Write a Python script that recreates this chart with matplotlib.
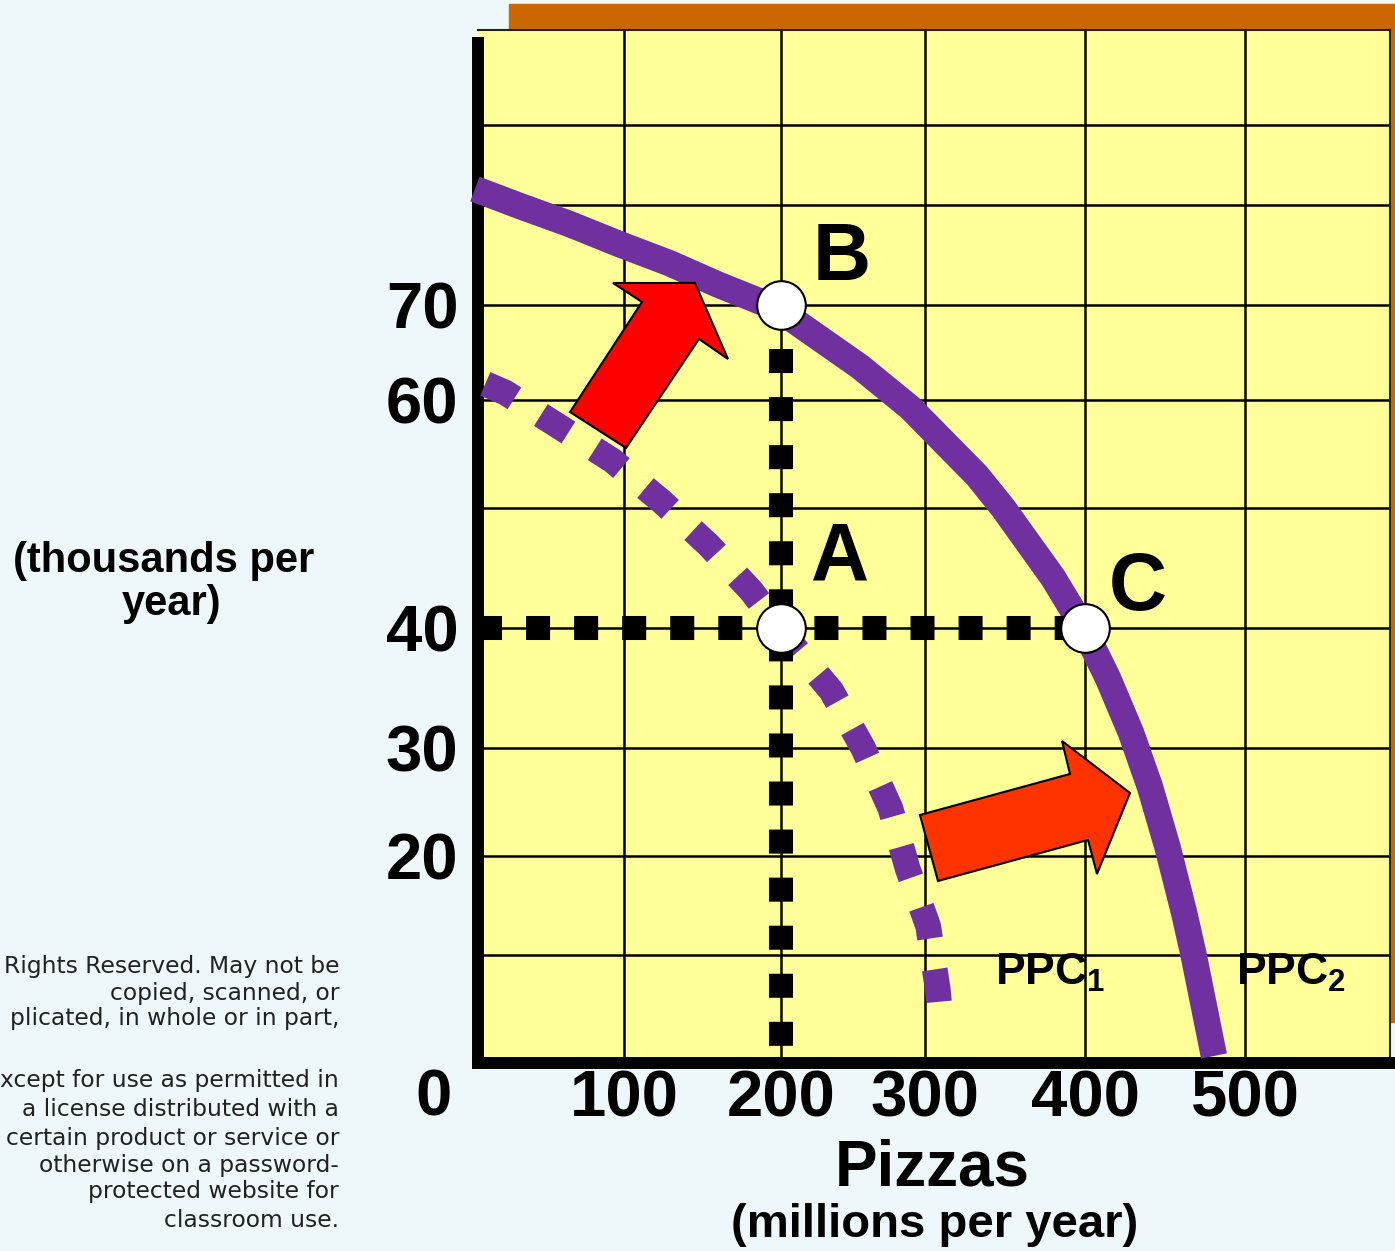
import numpy as np
import matplotlib
matplotlib.use("Agg")
import matplotlib.pyplot as plt
from matplotlib.patches import Polygon, Rectangle

# ---------------- data ----------------
x_ticks = [100, 200, 300, 400, 500]
x_tick_labels = ["100", "200", "300", "400", "500"]
y_ticks = [20, 30, 40, 60, 70]
y_tick_labels = ["20", "30", "40", "60", "70"]
x_grid = [100, 200, 300, 400, 500]
y_grid = [10, 20, 30, 40, 50, 60, 70, 80, 90]

# PPC2 (solid, outer curve)
ppc2_x = [-2.1, 28.6, 62.7, 96.6, 128.7, 160.5, 196.8, 254.9, 289.6, 332.5,
          348.8, 380, 398.6, 414.4, 428.8, 440.6, 451.6, 461.9, 467.5, 480.6]
ppc2_y = [82.0, 79.9, 78.1, 76.1, 74.2, 72.0, 69.7, 63.5, 59.3, 53.0,
          50.0, 44.2, 40.1, 35.8, 31.25, 26.4, 20.8, 14.3, 10.3, 0.65]
# PPC1 (dashed, inner curve)
ppc1_x = [5, 18.5, 56, 92, 124, 154, 181, 208, 235, 257, 276, 288, 302, 308, 309]
ppc1_y = [61.7, 60.8, 57.5, 54.4, 50.6, 46.9, 43.1, 38.6, 34.75, 30, 24.4, 18.7, 12.9, 6.8, 5.2]

point_names = ["A", "B", "C"]
point_x = [200, 200, 400]
point_y = [40, 70, 40]

# hand-drawn grid: display offsets (px) of each grid value
x_scale_vals = [0, 100, 200, 300, 400, 500, 600]
x_scale_pos = [0, 146, 303, 447, 607, 767, 912]
y_scale_vals = [0, 10, 20, 30, 40, 50, 60, 70, 80, 90, 100]
y_scale_pos = [0, 108, 207, 315, 435, 555, 663, 758, 858, 938, 1033]

copyright_lines = [
    "Rights Reserved. May not be",
    "copied, scanned, or",
    "plicated, in whole or in part,",
    "xcept for use as permitted in",
    "a license distributed with a",
    "certain product or service or",
    "otherwise on a password-",
    "protected website for",
    "classroom use.",
]
copyright_baselines = [973, 1000, 1025, 1087, 1116, 1145, 1172, 1198, 1227]

# ---------------- style ----------------
BG = "#EEF7F9"
YELLOW = "#FFFF99"
ORANGE = "#CC6600"
PURPLE = "#7030A0"
RED1 = "#FF0000"
RED2 = "#FF3300"

plt.rcParams["font.family"] = ["Liberation Sans", "DejaVu Sans"]
plt.rcParams["mathtext.default"] = "regular"
plt.rcParams["lines.scale_dashes"] = False


def make_pw(vals, pos):
    vals = np.asarray(vals, float)
    pos = np.asarray(pos, float)

    def mapper(a, b):
        def f(v):
            v = np.asarray(v, float)
            out = np.interp(v, a, b)
            lo_s = (b[1] - b[0]) / (a[1] - a[0])
            hi_s = (b[-1] - b[-2]) / (a[-1] - a[-2])
            out = np.where(v < a[0], b[0] + (v - a[0]) * lo_s, out)
            out = np.where(v > a[-1], b[-1] + (v - a[-1]) * hi_s, out)
            return out
        return f

    return mapper(vals, pos), mapper(pos, vals)


W, H = 1395, 1251
fig = plt.figure(figsize=(W / 100, H / 100), dpi=100, facecolor=BG)

def fx(px):
    return px / W

def fy(py):
    return (H - py) / H

# orange decorations
fig.add_artist(Rectangle((fx(509), fy(30)), 1 - fx(509), fy(4) - fy(30),
                         transform=fig.transFigure, color=ORANGE, zorder=-1))
fig.add_artist(Rectangle((fx(1390), fy(1022)), 1 - fx(1390), fy(30) - fy(1022),
                         transform=fig.transFigure, color=ORANGE, zorder=-1))

ax = fig.add_axes([fx(478), fy(1063), fx(1390) - fx(478), fy(30) - fy(1063)])
ax.set_facecolor(YELLOW)
ax.set_xscale("function", functions=make_pw(x_scale_vals, x_scale_pos))
ax.set_yscale("function", functions=make_pw(y_scale_vals, y_scale_pos))
ax.set_xlim(0, 600)
ax.set_ylim(0, 100)

ax.set_xticks(x_ticks)
ax.set_xticklabels(x_tick_labels, fontsize=47, fontweight="bold")
ax.set_yticks(y_ticks)
ax.set_yticklabels(y_tick_labels, fontsize=47, fontweight="bold")
ax.set_xticks(x_grid, minor=True)
ax.set_yticks(y_grid, minor=True)
ax.tick_params(which="both", length=0)
ax.tick_params(axis="x", pad=4.5)
ax.tick_params(axis="y", pad=14)
ax.grid(True, which="both", color="black", linewidth=1.8)
ax.set_axisbelow(True)

for s in ["left", "bottom"]:
    ax.spines[s].set_linewidth(8.6)
    ax.spines[s].set_color("black")
    ax.spines[s].set_capstyle("projecting")
ax.spines["left"].set_bounds(0, 98.6)
for s in ["top", "right"]:
    ax.spines[s].set_linewidth(1.5)
    ax.spines[s].set_color("#222222")

# curves
ax.plot(ppc2_x, ppc2_y, color=PURPLE, linewidth=19, solid_capstyle="butt",
        solid_joinstyle="round", zorder=3, clip_on=False)
ax.plot(ppc1_x, ppc1_y, color=PURPLE, linewidth=18.5, dash_capstyle="butt",
        linestyle=(0, (23.5, 22.5)), zorder=3)

# dotted guide lines from the points
ax.plot([0, point_x[2]], [point_y[0], point_y[2]], color="black", linewidth=17.3,
        linestyle=(0, (17.3, 17.3)), dash_capstyle="butt", zorder=4)
ax.plot([point_x[1], point_x[1]], [point_y[1], 0], color="black", linewidth=17.3,
        linestyle=(2.9, (17.3, 17.3)), dash_capstyle="butt", zorder=4)

# shift arrows (axes fraction)
arrow_up = [(0.1009, 0.6302), (0.1798, 0.7367), (0.1480, 0.7551), (0.2379, 0.7551),
            (0.2741, 0.6815), (0.2423, 0.7009), (0.1623, 0.5954)]
arrow_right = [(0.4846, 0.2401), (0.6491, 0.2798), (0.6404, 0.3117), (0.7149, 0.2614),
               (0.6787, 0.1830), (0.6689, 0.2159), (0.5044, 0.1762)]
ax.add_patch(Polygon(arrow_up, closed=True, transform=ax.transAxes, facecolor=RED1,
                     edgecolor="black", linewidth=1.5, zorder=5))
ax.add_patch(Polygon(arrow_right, closed=True, transform=ax.transAxes, facecolor=RED2,
                     edgecolor="black", linewidth=1.5, zorder=5))

# points
ax.plot(point_x, point_y, linestyle="none", marker="o", markersize=35,
        markerfacecolor="white", markeredgecolor="black", markeredgewidth=1.5,
        zorder=6, clip_on=False)

label_offsets = {"A": (59, 49), "B": (61, 25), "C": (53, 18)}
for n, xv, yv in zip(point_names, point_x, point_y):
    ax.annotate(n, xy=(xv, yv), xytext=label_offsets[n], textcoords="offset pixels",
                ha="center", va="baseline", fontsize=58, fontweight="bold", zorder=7)

ax.text(0.5669, 0.0755, "PPC$_1$", transform=ax.transAxes, ha="left", va="baseline",
        fontsize=32, fontweight="bold", zorder=7)
ax.text(0.8311, 0.0755, "PPC$_2$", transform=ax.transAxes, ha="left", va="baseline",
        fontsize=32, fontweight="bold", zorder=7)

ax.annotate("0", xy=(0, 0), xytext=(-45, -52), textcoords="offset pixels",
            ha="center", va="baseline", fontsize=47, fontweight="bold",
            annotation_clip=False)

# axis titles
fig.text(fx(932), fy(1185), "Pizzas", ha="center", va="baseline", fontsize=46,
         fontweight="bold")
fig.text(fx(935), fy(1237), "(millions per year)", ha="center", va="baseline",
         fontsize=34, fontweight="bold")
fig.text(fx(164), fy(572), "(thousands per", ha="center", va="baseline", fontsize=30,
         fontweight="bold")
fig.text(fx(172), fy(615), "year)", ha="center", va="baseline", fontsize=30,
         fontweight="bold")

for line, b in zip(copyright_lines, copyright_baselines):
    fig.text(fx(339), fy(b), line, ha="right", va="baseline", fontsize=16.8,
             family="DejaVu Sans", color="#222222")

fig.savefig("out.png", dpi=100, facecolor=BG)
